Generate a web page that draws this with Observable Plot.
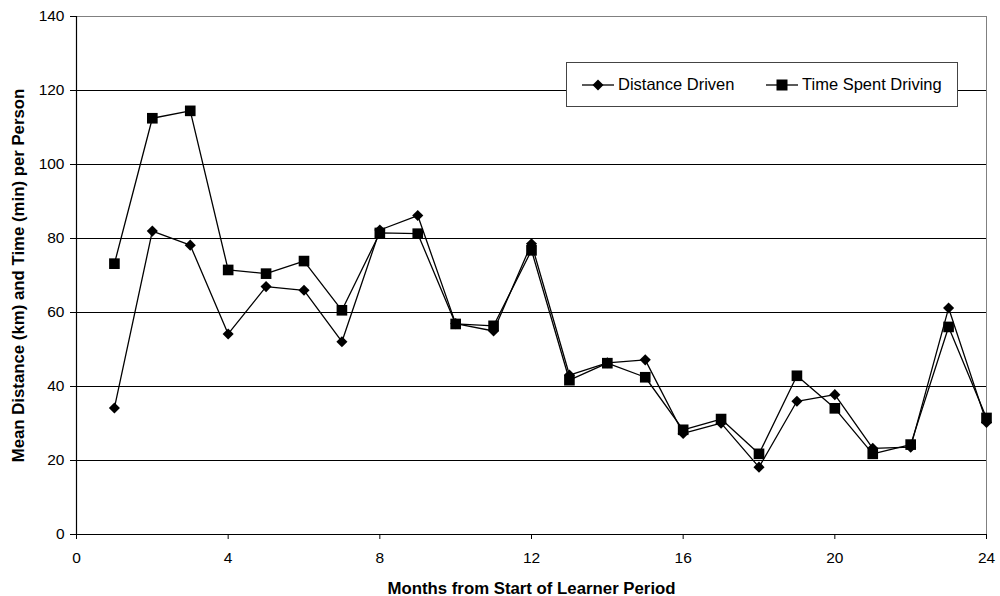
<!DOCTYPE html>
<html>
<head>
<meta charset="utf-8">
<script src="https://cdn.jsdelivr.net/npm/d3@7"></script>
<script src="https://cdn.jsdelivr.net/npm/@observablehq/plot@0.6"></script>
<style>
  html, body { margin: 0; padding: 0; background: #fff; }
  #wrap { position: relative; width: 1000px; height: 596px; font-family: "Liberation Sans", Arial, sans-serif; }
  #legend { position: absolute; left: 566px; top: 62px; width: 390px; height: 43px; border: 1px solid #444; background: #fff; }
  #legend .item { position: absolute; top: 0; height: 43px; display: flex; align-items: center; font-size: 16.5px; color: #000; white-space: nowrap; }
  #legend svg { margin-right: 4px; }
</style>
</head>
<body>
<div id="wrap"><div id="legend"></div></div>
<script>
const months = [1, 2, 3, 4, 5, 6, 7, 8, 9, 10, 11, 12, 13, 14, 15, 16, 17, 18, 19, 20, 21, 22, 23, 24];
const distanceDriven = [34.2, 82, 78.2, 54.2, 67, 66, 52.1, 82.3, 86.2, 57, 55, 78.6, 43.1, 46.4, 47.2, 27.3, 30.1, 18.2, 36, 37.8, 23.3, 23.6, 61.2, 30.3];
const timeSpentDriving = [73.2, 112.5, 114.5, 71.5, 70.5, 73.9, 60.6, 81.5, 81.3, 56.9, 56.4, 76.8, 41.7, 46.3, 42.5, 28.3, 31.2, 21.8, 42.9, 34.1, 21.8, 24.3, 56.1, 31.5];
const seriesNames = ["Distance Driven", "Time Spent Driving"];
const xTicks = [0, 4, 8, 12, 16, 20, 24];
const yTicks = [0, 20, 40, 60, 80, 100, 120, 140];
const xTitle = "Months from Start of Learner Period";
const yTitle = "Mean Distance (km) and Time (min) per Person";

const dist = months.map((m, i) => ({month: m, value: distanceDriven[i]}));
const time = months.map((m, i) => ({month: m, value: timeSpentDriving[i]}));

const chart = Plot.plot({
  width: 1000,
  height: 596,
  marginLeft: 76,
  marginRight: 14,
  marginTop: 16,
  marginBottom: 62,
  style: {fontFamily: "'Liberation Sans', Arial, sans-serif", fontSize: "15.5px", color: "#000", background: "#fff", overflow: "visible"},
  x: {domain: [0, 24]},
  y: {domain: [0, 140]},
  marks: [
    Plot.gridY(yTicks.filter(v => v > 0 && v < 140), {stroke: "#000", strokeOpacity: 1, strokeWidth: 1}),
    Plot.ruleY([140], {stroke: "#808080", strokeWidth: 1}),
    Plot.ruleX([24], {stroke: "#808080", strokeWidth: 1}),
    Plot.axisY({ticks: yTicks, tickSize: 6, tickPadding: 6, label: null, fontSize: 15.5, stroke: "#000"}),
    Plot.axisX({ticks: xTicks, tickSize: 5, tickPadding: 12, label: null, fontSize: 15.5, stroke: "#000"}),
    Plot.ruleX([0], {stroke: "#000", strokeWidth: 1.2}),
    Plot.ruleY([0], {stroke: "#000", strokeWidth: 1.2}),
    Plot.text([xTitle], {text: d => d, frameAnchor: "bottom", dy: 54, fontWeight: "bold", fontSize: 16.8, lineAnchor: "middle", textAnchor: "middle"}),
    Plot.text([yTitle], {text: d => d, frameAnchor: "left", dx: -58, rotate: -90, fontWeight: "bold", fontSize: 16.8, lineAnchor: "middle", textAnchor: "middle"}),
    Plot.line(dist, {x: "month", y: "value", stroke: "#000", strokeWidth: 1.3}),
    Plot.dot(dist, {x: "month", y: "value", symbol: "diamond2", r: 5, fill: "#000", stroke: "none"}),
    Plot.line(time, {x: "month", y: "value", stroke: "#000", strokeWidth: 1.3}),
    Plot.dot(time, {x: "month", y: "value", symbol: "square", r: 6, fill: "#000", stroke: "none"})
  ]
});
document.getElementById("wrap").insertBefore(chart, document.getElementById("legend"));

// Legend
const legend = document.getElementById("legend");
const items = [
  {name: seriesNames[0], left: 15, shape: '<path d="M16,3.5 L21.5,9 L16,14.5 L10.5,9 Z" fill="#000"/>'},
  {name: seriesNames[1], left: 199, shape: '<rect x="10.5" y="3.5" width="11" height="11" fill="#000"/>'}
];
items.forEach(it => {
  const div = document.createElement("div");
  div.className = "item";
  div.style.left = it.left + "px";
  div.innerHTML = `<svg width="32" height="18" viewBox="0 0 32 18"><line x1="0" y1="9" x2="32" y2="9" stroke="#000" stroke-width="1.3"/>${it.shape}</svg><span>${it.name}</span>`;
  legend.appendChild(div);
});
</script>
</body>
</html>
